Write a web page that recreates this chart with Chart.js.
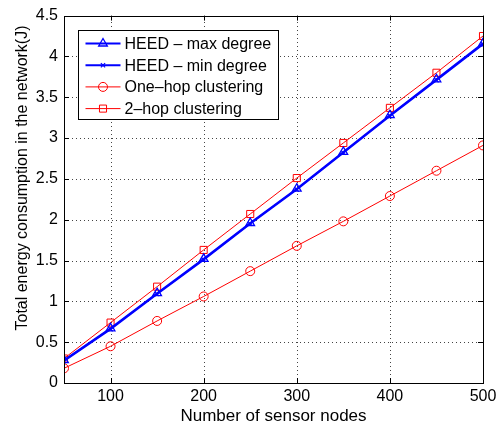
<!DOCTYPE html>
<html>
<head>
<meta charset="utf-8">
<script src="https://cdn.jsdelivr.net/npm/chart.js@4/dist/chart.umd.min.js"></script>
<style>
  html, body { margin: 0; padding: 0; background: #fff; }
  #wrap { width: 502px; height: 430px; }
</style>
</head>
<body>
<div id="wrap"><canvas id="energyChart" width="502" height="430"></canvas></div>
<script>
var nodes = [50, 100, 150, 200, 250, 300, 350, 400, 450, 500];
var heedMax = [0.28, 0.67, 1.10, 1.52, 1.96, 2.38, 2.83, 3.28, 3.72, 4.16];
var heedMin = [0.27, 0.66, 1.09, 1.51, 1.95, 2.37, 2.82, 3.27, 3.71, 4.15];
var oneHop = [0.18, 0.45, 0.76, 1.06, 1.37, 1.68, 1.98, 2.29, 2.60, 2.91];
var twoHop = [0.30, 0.74, 1.18, 1.63, 2.07, 2.51, 2.94, 3.37, 3.80, 4.25];
var xTicks = [100, 200, 300, 400, 500];
var yTitle = "Total energy consumption in the network(J)";

function toPoints(values) {
  return nodes.map(function (n, i) { return { x: n, y: values[i] }; });
}

var FONT = "'Liberation Sans', Arial, sans-serif";
Chart.defaults.font.family = FONT;
Chart.defaults.color = "#000";

var datasets = [
  { label: "HEED \u2013 max degree", data: toPoints(heedMax), borderColor: "#0000ff", borderWidth: 2,
    pointStyle: "triangle", pointRadius: 5, pointBorderWidth: 1.3 },
  { label: "HEED \u2013 min degree", data: toPoints(heedMin), borderColor: "#0000ff", borderWidth: 2,
    pointStyle: "crossRot", pointRadius: 3, pointBorderWidth: 1.2 },
  { label: "One\u2013hop clustering", data: toPoints(oneHop), borderColor: "#ff0000", borderWidth: 1,
    pointStyle: "circle", pointRadius: 4.5, pointBorderWidth: 1 },
  { label: "2\u2013hop clustering", data: toPoints(twoHop), borderColor: "#ff0000", borderWidth: 1,
    pointStyle: "rect", pointRadius: 5, pointBorderWidth: 1 }
];
datasets.forEach(function (ds) {
  ds.backgroundColor = "rgba(0,0,0,0)";
  ds.pointBackgroundColor = "rgba(0,0,0,0)";
  ds.pointBorderColor = ds.borderColor;
  ds.tension = 0;
});

// dotted grid under the lines
var dottedGrid = {
  id: "dottedGrid",
  beforeDatasetsDraw: function (chart) {
    var c = chart.ctx, a = chart.chartArea;
    var xs = chart.scales.x, ys = chart.scales.y;
    c.save();
    c.strokeStyle = "#444";
    c.lineWidth = 1;
    c.setLineDash([1, 3]);
    c.beginPath();
    xTicks.forEach(function (t) {
      var px = Math.round(xs.getPixelForValue(t)) + 0.5;
      c.moveTo(px, a.bottom); c.lineTo(px, a.top);
    });
    ys.ticks.forEach(function (t) {
      var py = Math.round(ys.getPixelForValue(t.value)) + 0.5;
      c.moveTo(a.left, py); c.lineTo(a.right, py);
    });
    c.stroke();
    c.restore();
  }
};

// frame, inward tick marks, y title and the boxed legend, matlab style
var matlabFrame = {
  id: "matlabFrame",
  afterDraw: function (chart) {
    var c = chart.ctx, a = chart.chartArea;
    var xs = chart.scales.x, ys = chart.scales.y;
    c.save();
    c.strokeStyle = "#000";
    c.lineWidth = 1;
    c.beginPath();
    xTicks.forEach(function (t) {
      var px = Math.round(xs.getPixelForValue(t)) + 0.5;
      c.moveTo(px, a.bottom); c.lineTo(px, a.bottom - 5);
      c.moveTo(px, a.top); c.lineTo(px, a.top + 5);
    });
    ys.ticks.forEach(function (t) {
      var py = Math.round(ys.getPixelForValue(t.value)) + 0.5;
      c.moveTo(a.left, py); c.lineTo(a.left + 5, py);
      c.moveTo(a.right, py); c.lineTo(a.right - 5, py);
    });
    c.stroke();
    c.strokeRect(Math.round(a.left) + 0.5, Math.round(a.top) + 0.5,
      Math.round(a.right - a.left), Math.round(a.bottom - a.top));

    // y title (sits a bit above the axis centre, as in the original)
    c.save();
    c.translate(23, 178);
    c.rotate(-Math.PI / 2);
    c.font = "16px " + FONT;
    c.fillStyle = "#000";
    c.textAlign = "center";
    c.textBaseline = "middle";
    c.fillText(yTitle, 0, 0);
    c.restore();

    // legend
    var lx = 78.5, ly = 30.5, lw = 200, lh = 89;
    c.fillStyle = "#fff";
    c.fillRect(lx, ly, lw, lh);
    c.strokeRect(lx, ly, lw, lh);
    c.font = "16px " + FONT;
    c.textBaseline = "middle";
    chart.data.datasets.forEach(function (ds, i) {
      var yy = ly + 13 + i * 21.7;
      c.strokeStyle = ds.borderColor;
      c.lineWidth = ds.borderWidth;
      c.beginPath();
      c.moveTo(lx + 7, yy); c.lineTo(lx + 42, yy);
      c.stroke();
      c.fillStyle = "rgba(0,0,0,0)";
      c.lineWidth = ds.pointBorderWidth;
      Chart.helpers.drawPoint(c, {
        pointStyle: ds.pointStyle, radius: ds.pointRadius, borderWidth: ds.pointBorderWidth, rotation: 0
      }, lx + 24.5, yy);
      c.fillStyle = "#000";
      c.fillText(ds.label, lx + 46, yy + 1);
    });
    c.restore();
  }
};

var ctx = document.getElementById("energyChart").getContext("2d");
var config = {
  type: "line",
  data: { datasets: datasets },
  options: {
    responsive: false,
    animation: false,
    layout: { padding: { top: 13, right: 19, left: 0, bottom: 0 } },
    plugins: { legend: { display: false }, tooltip: { enabled: false } },
    scales: {
      x: {
        type: "linear",
        min: 50,
        max: 500,
        afterBuildTicks: function (scale) {
          scale.ticks = xTicks.map(function (v) { return { value: v }; });
        },
        afterFit: function (scale) { scale.height = 47; },
        grid: { display: false, drawTicks: false },
        border: { display: false },
        ticks: { font: { size: 16 }, padding: 4, maxRotation: 0 },
        title: { display: true, text: "Number of sensor nodes", font: { size: 17 }, padding: { top: 0, bottom: 3 } }
      },
      y: {
        min: 0,
        max: 4.5,
        afterFit: function (scale) { scale.width = 64; },
        grid: { display: false, drawTicks: false },
        border: { display: false },
        ticks: {
          stepSize: 0.5,
          font: { size: 16 },
          padding: 6,
          callback: function (v) { return String(v); }
        },
        title: { display: false }
      }
    }
  },
  plugins: [dottedGrid, matlabFrame]
};

var myChart = new Chart(ctx, config);
</script>
</body>
</html>
